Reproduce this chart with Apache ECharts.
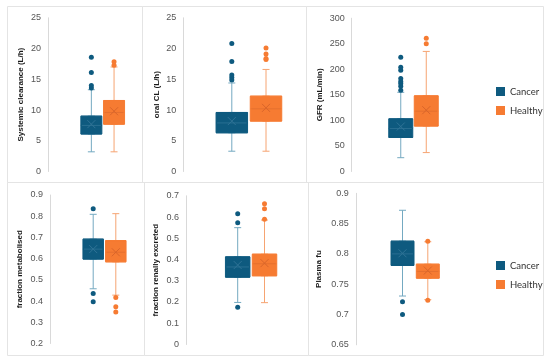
<!DOCTYPE html>
<html><head><meta charset="utf-8">
<script src="https://cdn.jsdelivr.net/npm/echarts@6/dist/echarts.min.js"></script>
<style>html,body{margin:0;padding:0;background:#fff}#c{width:550px;height:363px}</style>
</head><body><div id="c"></div>
<script>
const groups = ['Cancer', 'Healthy'];

// [min whisker, Q1, median, Q3, max whisker]
// Systemic clearance (L/h)
const sysCancerBox = [3.2, 6.1, 7.5, 9.0, 13.3];
const sysHealthyBox = [3.2, 7.7, 9.6, 11.55, 17.0];
const sysMeans = [7.7, 9.8];
const sysCancerOut = [13.6, 14.0, 16.1, 18.6];
const sysHealthyOut = [17.3, 17.85];
const sysAxis = [0, 25, 5];

// oral CL (L/h)
const oralCancerBox = [3.3, 6.3, 7.9, 9.6, 14.4];
const oralHealthyBox = [3.3, 8.2, 10.2, 12.25, 16.6];
const oralMeans = [8.2, 10.35];
const oralCancerOut = [14.9, 15.3, 15.7, 17.9, 20.8];
const oralHealthyOut = [18.2, 18.4, 19.1, 20.1];
const oralAxis = [0, 25, 5];

// GFR (mL/min)
const gfrCancerBox = [27, 66.7, 84, 103, 155];
const gfrHealthyBox = [37, 89, 118, 148, 235];
const gfrMeans = [88, 120];
const gfrCancerOut = [159, 167, 172, 176, 182, 198, 204, 223.5];
const gfrHealthyOut = [250, 261];
const gfrAxis = [0, 300, 50];

// fraction metabolised
const fmCancerBox = [0.458, 0.598, 0.645, 0.692, 0.809];
const fmHealthyBox = [0.428, 0.585, 0.63, 0.685, 0.812];
const fmMeans = [0.645, 0.63];
const fmCancerOut = [0.835, 0.436, 0.397];
const fmHealthyOut = [0.417, 0.373, 0.348];
const fmAxis = [0.2, 0.9, 0.1];

// fraction renally excreted
const frCancerBox = [0.198, 0.317, 0.365, 0.4125, 0.55];
const frHealthyBox = [0.197, 0.3235, 0.38, 0.425, 0.586];
const frMeans = [0.374, 0.383];
const frCancerOut = [0.175, 0.573, 0.615];
const frHealthyOut = [0.59, 0.639, 0.662];
const frAxis = [0, 0.7, 0.1];

// Plasma fu
const fuCancerBox = [0.7305, 0.781, 0.80, 0.821, 0.872];
const fuHealthyBox = [0.7245, 0.76, 0.771, 0.783, 0.82];
const fuMeans = [0.801, 0.7725];
const fuCancerOut = [0.721, 0.70];
const fuHealthyOut = [0.821, 0.7235];
const fuAxis = [0.65, 0.9, 0.05];

const colors = {
  box: ['#0e5a7f', '#f67b32'],
  whisker: ['#74a9c1', '#f6a472'],
  mean: ['#2f7396', '#d9652a'],
  median: ['#2a6f92', '#e5702f']
};

const panels = [
  {name: 'Systemic clearance (L/h)', box: [sysCancerBox, sysHealthyBox], means: sysMeans, out: [sysCancerOut, sysHealthyOut], axis: sysAxis,
   left: 80, width: 45.4, top: 17.8, height: 153.7, offset: 32, nameGap: 23, boxW: 21},
  {name: 'oral CL (L/h)', box: [oralCancerBox, oralHealthyBox], means: oralMeans, out: [oralCancerOut, oralHealthyOut], axis: oralAxis,
   left: 214.7, width: 68.4, top: 17.8, height: 153.7, offset: 31.4, nameGap: 23, boxW: 31.5},
  {name: 'GFR (mL/min)', box: [gfrCancerBox, gfrHealthyBox], means: gfrMeans, out: [gfrCancerOut, gfrHealthyOut], axis: gfrAxis,
   left: 388, width: 51, top: 18.2, height: 153.3, offset: 36.3, nameGap: 28, boxW: 24},
  {name: 'fraction metabolised', box: [fmCancerBox, fmHealthyBox], means: fmMeans, out: [fmCancerOut, fmHealthyOut], axis: fmAxis,
   left: 81.9, width: 45.2, top: 195, height: 148.5, offset: 31.9, nameGap: 26, boxW: 20.5},
  {name: 'fraction renally excreted', box: [frCancerBox, frHealthyBox], means: frMeans, out: [frCancerOut, frHealthyOut], axis: frAxis,
   left: 224.3, width: 53.6, top: 195.8, height: 148.7, offset: 38.3, nameGap: 26, boxW: 24.5},
  {name: 'Plasma fu', box: [fuCancerBox, fuHealthyBox], means: fuMeans, out: [fuCancerOut, fuHealthyOut], axis: fuAxis,
   left: 389.85, width: 50.6, top: 193.3, height: 151.5, offset: 34, nameGap: 33, boxW: 23}
];

const frames = [
  [7, 6, 135, 176], [142, 6, 164, 176], [306, 6, 237, 176],
  [7, 182, 137, 173], [144, 182, 164, 173], [308, 182, 235, 173]
];

const grid = [], xAxis = [], yAxis = [], series = [];
panels.forEach((p, i) => {
  grid.push({left: p.left, top: p.top, width: p.width, height: p.height});
  for (let k = 0; k < 2; k++) {
    xAxis.push({type: 'category', gridIndex: i, data: groups, show: false});
  }
  yAxis.push({
    type: 'value', gridIndex: i, min: p.axis[0], max: p.axis[1], interval: p.axis[2],
    offset: p.offset, name: p.name, nameLocation: 'middle', nameGap: p.nameGap,
    nameTextStyle: {fontSize: 8, fontWeight: 'bold', color: '#1a1a1a', fontFamily: 'Liberation Sans'},
    axisLine: {show: true, lineStyle: {color: '#d9d9d9', width: 1}},
    axisTick: {show: false},
    splitLine: {show: false},
    axisLabel: {fontSize: 9, color: '#555', margin: 7, fontFamily: 'Liberation Sans'}
  });
  // whiskers
  series.push({
    type: 'boxplot', xAxisIndex: 2 * i, yAxisIndex: i, boxWidth: [7, 7], z: 2,
    silent: true,
    data: p.box.map((b, g) => ({value: b, itemStyle: {color: colors.whisker[g], borderColor: colors.whisker[g], borderWidth: 1}}))
  });
  // boxes
  series.push({
    type: 'boxplot', xAxisIndex: 2 * i + 1, yAxisIndex: i, boxWidth: [p.boxW, p.boxW], z: 3,
    silent: true,
    data: p.box.map((b, g) => ({value: [b[1], b[1], b[2], b[3], b[3]], itemStyle: {color: colors.box[g], borderColor: colors.box[g], borderWidth: 1}}))
  });
  // median lines
  series.push({
    type: 'scatter', xAxisIndex: 2 * i, yAxisIndex: i, z: 4, silent: true,
    symbol: 'rect', symbolSize: [p.boxW - 2, 1],
    data: p.box.map((b, g) => ({value: [g, b[2]], itemStyle: {color: colors.median[g], opacity: 1}}))
  });
  // outliers
  p.out.forEach((arr, g) => {
    series.push({
      type: 'scatter', xAxisIndex: 2 * i, yAxisIndex: i, z: 4, silent: true,
      symbol: 'circle', symbolSize: 5,
      itemStyle: {color: colors.box[g], opacity: 1},
      data: arr.map(v => [g, v])
    });
  });
  // means
  series.push({
    type: 'scatter', xAxisIndex: 2 * i, yAxisIndex: i, z: 5, silent: true,
    symbol: 'path://M0,0L10,10M10,0L0,10', symbolSize: 8,
    data: p.means.map((m, g) => ({value: [g, m], itemStyle: {color: 'none', borderColor: colors.mean[g], borderWidth: 1, opacity: 1}}))
  });
});

// legend series
groups.forEach((gname, g) => {
  series.push({type: 'scatter', name: gname, xAxisIndex: 0, yAxisIndex: 0, data: [], itemStyle: {color: colors.box[g], opacity: 1}});
});

const legendStyle = {
  orient: 'vertical', left: 491, icon: 'rect', itemWidth: 9, itemHeight: 9, itemGap: 9,
  data: groups, selectedMode: false,
  itemStyle: {opacity: 1},
  textStyle: {fontSize: 9.5, color: '#333', fontFamily: 'Lato'}
};

const option = {
  animation: false,
  backgroundColor: '#fff',
  grid, xAxis, yAxis, series,
  legend: [
    Object.assign({}, legendStyle, {top: 81.5}),
    Object.assign({}, legendStyle, {top: 255.5})
  ],
  graphic: frames.map(f => ({
    type: 'rect', z: -1, silent: true,
    shape: {x: f[0] + 0.5, y: f[1] + 0.5, width: f[2], height: f[3]},
    style: {fill: 'none', stroke: '#e4e4e4', lineWidth: 1}
  }))
};

const chart = echarts.init(document.getElementById('c'), null, {renderer: 'canvas'});
chart.setOption(option);
</script>
</body></html>
